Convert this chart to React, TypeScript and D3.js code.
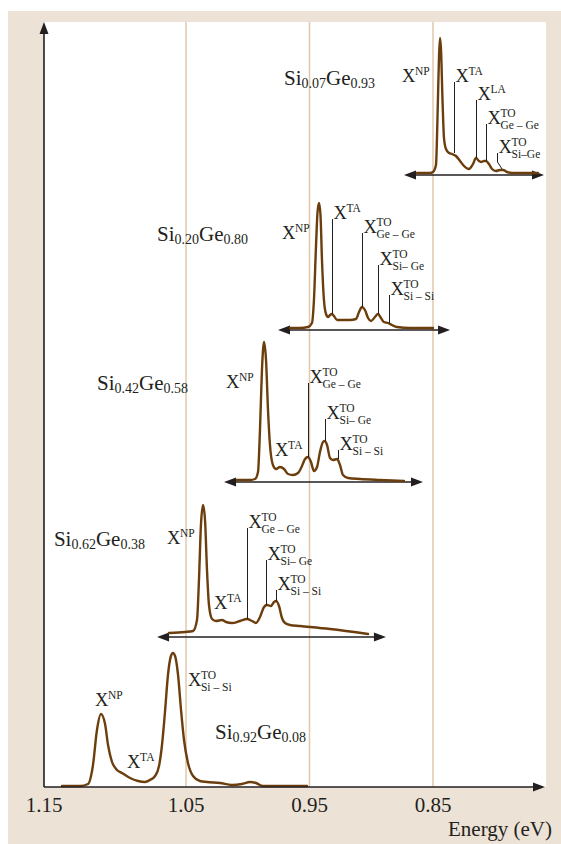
import React from "react";
import * as d3 from "d3";

const WIDTH = 561;
const HEIGHT = 844;

// Energy axis (eV)
const tickEnergies = [1.15, 1.05, 0.95, 0.85];
const tickLabels = ["1.15", "1.05", "0.95", "0.85"];
const gridEnergies = [1.05, 0.95, 0.85];
const axisTitle = "Energy (eV)";

// Alloy compositions, bottom to top
const siFraction = ["0.92", "0.62", "0.42", "0.20", "0.07"];
const geFraction = ["0.08", "0.38", "0.58", "0.80", "0.93"];

// Vertical offset of each spectrum and of its double-headed energy arrow (a.u.)
const baselineOffset = [0, 153, 306, 459, 612];
const arrowLevel = [0, 150, 305, 457, 612];
// Energy span of the double-headed arrow under each spectrum (eV)
const arrowStart = [NaN, 1.0704, 1.0192, 0.9755, 0.8735];
const arrowEnd = [NaN, 0.8881, 0.8581, 0.8362, 0.7601];

// Title anchor of each spectrum: energy (eV) and height above its baseline (a.u.)
const titleEnergy = [1.0265, 1.143, 1.1127, 1.0704, 0.9706];
const titleLevel = [48, 88, 91, 87, 90];

// Photoluminescence spectra: energy (eV) and intensity (a.u.)
const energy92 = [1.1373, 1.1246, 1.119, 1.1155, 1.1127, 1.1099, 1.107, 1.1049, 1.1021, 1.0986, 1.0951, 1.0894, 1.0838, 1.0789, 1.0754, 1.0718, 1.069, 1.0669, 1.0648, 1.0627, 1.0606, 1.0592, 1.0577, 1.0556, 1.0535, 1.0514, 1.0484, 1.0443, 1.0387, 1.033, 1.0225, 1.0128, 1.0047, 0.9982, 0.9933, 0.9877, 0.9739, 0.952];
const intensity92 = [1, 1, 3, 22, 57, 73, 63, 42, 25, 17, 14, 9, 6, 5, 7, 11, 21, 42, 75, 112, 131, 134, 131, 112, 77, 47, 24, 11, 6, 5, 4, 2, 3, 5, 4, 1, 1, 1];

const energy62 = [1.062, 1.0507, 1.0443, 1.0411, 1.0395, 1.0379, 1.0362, 1.0346, 1.033, 1.0314, 1.0289, 1.0257, 1.0209, 1.0176, 1.0128, 1.0063, 1.0006, 0.9966, 0.9933, 0.9901, 0.9868, 0.9844, 0.9812, 0.9787, 0.9771, 0.9747, 0.9723, 0.9698, 0.9658, 0.9577, 0.9334, 0.9026];
const intensity62 = [1, 2, 3, 14, 54, 109, 129, 114, 64, 29, 15, 13, 14, 12, 11, 13, 15, 13, 11, 17, 27, 29, 28, 32, 33, 28, 16, 11, 9, 8, 5, 0];

const energy42 = [1.0087, 0.9982, 0.9941, 0.9917, 0.9901, 0.9885, 0.9868, 0.9852, 0.9836, 0.982, 0.9796, 0.9771, 0.9739, 0.9706, 0.9674, 0.9634, 0.9593, 0.9561, 0.9536, 0.9512, 0.9488, 0.9464, 0.9439, 0.9415, 0.9391, 0.9375, 0.9358, 0.9334, 0.931, 0.9277, 0.9253, 0.9229, 0.9188, 0.9091, 0.8929, 0.8735];
const intensity42 = [1, 1, 2, 9, 51, 111, 139, 121, 71, 36, 16, 12, 14, 12, 7, 6, 8, 15, 22, 24, 19, 10, 14, 29, 39, 40, 36, 23, 21, 22, 16, 6, 3, 2, 1, 0];

const energy20 = [0.9658, 0.9577, 0.9512, 0.948, 0.9464, 0.9447, 0.9435, 0.9423, 0.9411, 0.9399, 0.9383, 0.9366, 0.935, 0.9334, 0.9318, 0.9302, 0.9277, 0.9237, 0.9172, 0.9124, 0.9099, 0.9075, 0.9051, 0.9026, 0.9002, 0.897, 0.8945, 0.8921, 0.8897, 0.8864, 0.8832, 0.8792, 0.8686, 0.85];
const intensity20 = [0, 0, 1, 5, 28, 83, 116, 125, 113, 68, 28, 14, 11, 13, 14, 12, 8, 8, 8, 9, 16, 21, 18, 10, 7, 11, 14, 10, 6, 5, 3, 1, 0, 0];

const energy07 = [0.863, 0.8524, 0.85, 0.8476, 0.8464, 0.8451, 0.8443, 0.8435, 0.8423, 0.8411, 0.8395, 0.837, 0.8346, 0.8314, 0.8281, 0.8249, 0.8209, 0.8176, 0.8152, 0.8128, 0.8111, 0.8087, 0.8071, 0.8047, 0.8022, 0.799, 0.7957, 0.7933, 0.7901, 0.786, 0.765];
const intensity07 = [2, 2, 3, 10, 55, 120, 137, 125, 75, 37, 26, 22, 21, 19, 14, 9, 6, 11, 17, 14, 13, 14, 14, 11, 6, 4, 5, 5, 3, 2, 2];

// Exciton replica labels: [superscript, subscript, energy, label height, leader foot, bend energy, bend foot]
type Peak = [string, string, number, number, number | null, number?, number?];
const peaks92: Peak[] = [
  ["NP", "", 1.1141, 81, null],
  ["TA", "", 1.0915, 19, null],
  ["TO", "Si – Si", 1.0484, 101, null],
];
const peaks62: Peak[] = [
  ["NP", "", 1.0634, 90, null],
  ["TA", "", 1.0273, 25, null],
  ["TO", "Ge – Ge", 1.0006, 106, 15],
  ["TO", "Si– Ge", 0.9852, 74, 29],
  ["TO", "Si – Si", 0.9771, 44, 33],
];
const peaks42: Peak[] = [
  ["NP", "", 1.0176, 93, null],
  ["TA", "", 0.9779, 25, null],
  ["TO", "Ge – Ge", 0.9512, 98, 24],
  ["TO", "Si– Ge", 0.9375, 62, 40],
  ["TO", "Si – Si", 0.9269, 31, 22],
];
const peaks20: Peak[] = [
  ["NP", "", 0.9723, 89, null],
  ["TA", "", 0.9318, 109, 14],
  ["TO", "Ge – Ge", 0.9075, 95, 21],
  ["TO", "Si– Ge", 0.8945, 63, 14],
  ["TO", "Si – Si", 0.8856, 33, 5],
];
const peaks07: Peak[] = [
  ["NP", "", 0.8751, 93, null],
  ["TA", "", 0.833, 93, 22],
  ["LA", "", 0.8152, 75, 17],
  ["TO", "Ge – Ge", 0.8071, 51, 14],
  ["TO", "Si–Ge", 0.7982, 22, 13, 0.7941, 6],
];

const spectra = [
  { energy: energy92, intensity: intensity92, peaks: peaks92 },
  { energy: energy62, intensity: intensity62, peaks: peaks62 },
  { energy: energy42, intensity: intensity42, peaks: peaks42 },
  { energy: energy20, intensity: intensity20, peaks: peaks20 },
  { energy: energy07, intensity: intensity07, peaks: peaks07 },
];

const BEIGE = "#ece2d6";
const GRID = "#e0c8ad";
const CURVE = "#6c3e0d";
const INK = "#231f20";
const FONT = "'Liberation Serif', 'Times New Roman', serif";

// Plot frame
const LEFT = 44;
const RIGHT = 545;
const TOP = 22;
const BOTTOM = 787;

const HEAD_LEN = 12;
const HEAD_HALF = 4.5;

function headRight(tx: number, ty: number) {
  return `M${tx},${ty}L${tx - HEAD_LEN},${ty - HEAD_HALF}L${tx - HEAD_LEN},${ty + HEAD_HALF}Z`;
}
function headLeft(tx: number, ty: number) {
  return `M${tx},${ty}L${tx + HEAD_LEN},${ty - HEAD_HALF}L${tx + HEAD_LEN},${ty + HEAD_HALF}Z`;
}
function headUp(tx: number, ty: number) {
  return `M${tx},${ty}L${tx - HEAD_HALF},${ty + HEAD_LEN}L${tx + HEAD_HALF},${ty + HEAD_LEN}Z`;
}

export default function App() {
  // Piecewise energy scale: the 1.15–1.05 interval is drawn wider than the others
  const x = d3.scaleLinear().domain([1.15, 1.05, 0.85]).range([LEFT, 186, 433]);
  const y = d3.scaleLinear().domain([0, BOTTOM - TOP]).range([BOTTOM, TOP]);

  const line = d3
    .line<[number, number]>()
    .x((d) => x(d[0]))
    .y((d) => y(d[1]))
    .curve(d3.curveMonotoneX);

  return (
    <svg
      width={WIDTH}
      height={HEIGHT}
      style={{ position: "absolute", left: 0, top: 0, background: "#ffffff" }}
      fontFamily={FONT}
    >
      <rect x={8} y={11} width={WIDTH - 8} height={HEIGHT - 11} fill={BEIGE} />
      <rect x={LEFT} y={TOP} width={RIGHT + 1 - LEFT} height={BOTTOM - TOP} fill="#ffffff" />

      {gridEnergies.map((e) => (
        <line key={e} x1={x(e)} x2={x(e)} y1={TOP} y2={BOTTOM} stroke={GRID} strokeWidth={1.5} />
      ))}

      {spectra.map((s, k) => {
        const off = baselineOffset[k];
        const pts = d3.zip(s.energy, s.intensity).map(
          (p) => [p[0], p[1] + off] as [number, number]
        );
        const ay = y(arrowLevel[k]);
        return (
          <g key={k}>
            {k > 0 && (
              <g>
                <line
                  x1={x(arrowStart[k]) + 4}
                  x2={x(arrowEnd[k]) - 4}
                  y1={ay}
                  y2={ay}
                  stroke={INK}
                  strokeWidth={1.6}
                />
                <path d={headLeft(x(arrowStart[k]), ay)} fill={INK} />
                <path d={headRight(x(arrowEnd[k]), ay)} fill={INK} />
              </g>
            )}
            <path
              d={line(pts) ?? ""}
              fill="none"
              stroke={CURVE}
              strokeWidth={2.4}
              strokeLinejoin="round"
              strokeLinecap="round"
            />
            {s.peaks.map((p, j) => {
              const [sup, sub, e, top, foot, bendE, bendFoot] = p;
              const lx = Math.round(x(e)) + 0.5;
              const ty = y(top + off);
              const tx = foot === null ? x(e) : lx + 1;
              let leader = "";
              if (foot !== null) {
                leader = `M${lx},${ty}L${lx},${y(foot + off)}`;
                if (bendE !== undefined && bendFoot !== undefined) {
                  leader += `L${x(bendE)},${y(bendFoot + off)}`;
                }
              }
              return (
                <g key={j} fill={INK}>
                  {leader && <path d={leader} fill="none" stroke={INK} strokeWidth={1} />}
                  <text x={tx} y={ty} fontSize={18.5}>X</text>
                  <text x={tx + 13} y={ty - 7.5} fontSize={11.5}>{sup}</text>
                  {sub && (
                    <text x={tx + 13} y={ty + 4.5} fontSize={11.5}>{sub}</text>
                  )}
                </g>
              );
            })}
            <text x={x(titleEnergy[k])} y={y(titleLevel[k] + off)} fontSize={21} fill={INK}>
              Si
              <tspan fontSize={14} dy={2.5}>{siFraction[k]}</tspan>
              <tspan fontSize={21} dy={-2.5}>Ge</tspan>
              <tspan fontSize={14} dy={2.5}>{geFraction[k]}</tspan>
            </text>
          </g>
        );
      })}

      {/* Axes */}
      <line x1={LEFT} x2={LEFT} y1={BOTTOM} y2={TOP + 4} stroke={INK} strokeWidth={1.6} />
      <path d={headUp(LEFT, TOP)} fill={INK} />
      <line x1={LEFT} x2={RIGHT - 4} y1={BOTTOM} y2={BOTTOM} stroke={INK} strokeWidth={1.6} />
      <path d={headRight(RIGHT, BOTTOM)} fill={INK} />

      {tickEnergies.map((e, i) => (
        <text key={e} x={x(e)} y={812} fontSize={21} textAnchor="middle" fill={INK}>
          {tickLabels[i]}
        </text>
      ))}
      <text x={552} y={836} fontSize={21} textAnchor="end" fill={INK}>
        {axisTitle}
      </text>
    </svg>
  );
}
